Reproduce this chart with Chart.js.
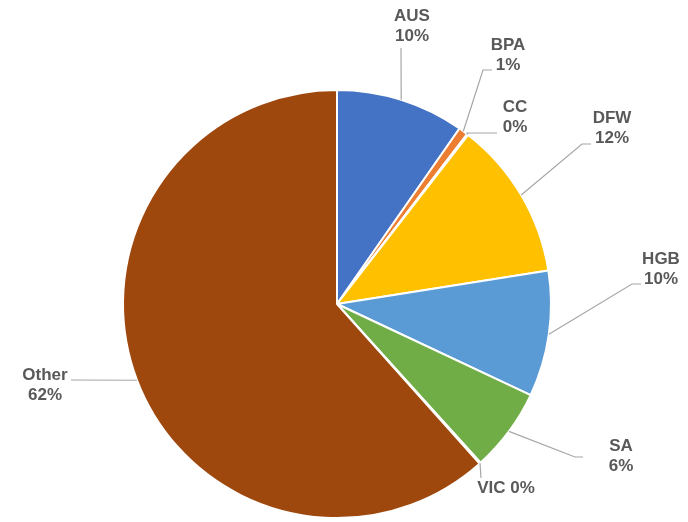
<!DOCTYPE html>
<html>
<head>
<meta charset="utf-8">
<script src="https://cdn.jsdelivr.net/npm/chart.js@4.4.0/dist/chart.umd.min.js"></script>
<style>
  html, body { margin: 0; padding: 0; background: #fff; }
  #wrap { width: 688px; height: 522px; position: relative; }
</style>
</head>
<body>
<div id="wrap"><canvas id="pieChart"></canvas></div>
<script>
// --- data ---
const regions = ['AUS', 'BPA', 'CC', 'DFW', 'HGB', 'SA', 'VIC', 'Other'];
const shares = [9.7, 0.7, 0.1, 12.0, 9.5, 6.3, 0.1, 61.6];
const sliceColors = ['#4472C4', '#ED7D31', '#A5A5A5', '#FFC000', '#5B9BD5', '#70AD47', '#264478', '#9E480E'];

// label placement, offsets from pie centre: [text x, text y, elbow x, elbow y, end x, end y, single line]
const labelLayout = [
  [75, -278, 64, -256, 64, -256, false],
  [171, -249, 146, -234, 155, -234, false],
  [178, -187, 130, -171, 160, -171, false],
  [275, -176, 245, -160, 254, -160, false],
  [324, -35, 295, -20, 304, -20, false],
  [284, 152, 238, 153, 246, 153, false],
  [169, 184, 144, 174, 144, 174, true],
  [-292, 81, -266, 76, -266, 76, false]
];

const leaderLabels = {
  id: 'leaderLabels',
  afterDraw(chart) {
    const ctx = chart.ctx;
    const meta = chart.getDatasetMeta(0);
    const total = shares.reduce((a, b) => a + b, 0);
    ctx.save();
    ctx.font = 'bold 17px "Liberation Sans", Arial, sans-serif';
    ctx.textAlign = 'center';
    ctx.textBaseline = 'middle';
    meta.data.forEach((arc, i) => {
      const { x, y, startAngle, endAngle, outerRadius } = arc.getProps(['x', 'y', 'startAngle', 'endAngle', 'outerRadius'], true);
      const mid = (startAngle + endAngle) / 2;
      const ax = x + Math.cos(mid) * outerRadius;
      const ay = y + Math.sin(mid) * outerRadius;
      const L = labelLayout[i];
      ctx.strokeStyle = '#A6A6A6';
      ctx.lineWidth = 1.2;
      ctx.beginPath();
      ctx.moveTo(ax, ay);
      ctx.lineTo(x + L[2], y + L[3]);
      ctx.lineTo(x + L[4], y + L[5]);
      ctx.stroke();
      const pct = Math.round(shares[i] / total * 100) + '%';
      ctx.fillStyle = '#595959';
      if (L[6]) {
        ctx.fillText(regions[i] + ' ' + pct, x + L[0], y + L[1]);
      } else {
        ctx.fillText(regions[i], x + L[0], y + L[1] - 10);
        ctx.fillText(pct, x + L[0], y + L[1] + 10);
      }
    });
    ctx.restore();
  }
};

new Chart(document.getElementById('pieChart'), {
  type: 'pie',
  data: {
    labels: regions,
    datasets: [{
      data: shares,
      backgroundColor: sliceColors,
      borderColor: '#ffffff',
      borderWidth: 2
    }]
  },
  options: {
    responsive: true,
    maintainAspectRatio: false,
    animation: false,
    layout: { padding: { top: 89, bottom: 3, left: 122, right: 136 } },
    plugins: {
      legend: { display: false },
      tooltip: { enabled: false }
    }
  },
  plugins: [leaderLabels]
});
</script>
</body>
</html>
